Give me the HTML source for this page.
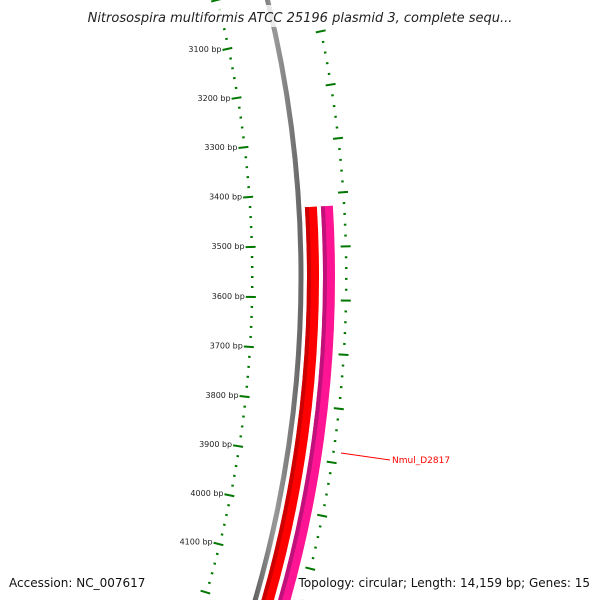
<!DOCTYPE html>
<html><head><meta charset="utf-8"><style>
html,body{margin:0;background:#fff;width:600px;height:600px;overflow:hidden;}
svg{display:block;font-family:"DejaVu Sans","Liberation Sans",sans-serif;}
</style></head><body>
<svg id="map" width="600" height="600" viewBox="0 0 600 600">
<defs>
<linearGradient id="gg" x1="0" x2="1" y1="0" y2="0"><stop offset="0" stop-color="#555"/><stop offset="0.5" stop-color="#999"/><stop offset="1" stop-color="#666"/></linearGradient>
</defs>
<g id="rings"></g>
<g id="ticks"></g>
<g id="genes"></g>
<line x1="341" y1="453" x2="390" y2="460" stroke="#f00" stroke-width="1"/>
<text x="392" y="463" font-size="9" fill="#f00">Nmul_D2817</text>
<rect x="70" y="5" width="460" height="22" fill="#fff" opacity="0.8"/>
<text x="300" y="22" text-anchor="middle" font-size="13" font-style="italic" fill="#222">Nitrosospira multiformis ATCC 25196 plasmid 3, complete sequ...</text>
<text x="9" y="587" font-size="12" fill="#111">Accession: NC_007617</text>
<rect x="298" y="572" width="302" height="28" fill="#fff" opacity="0.9"/>
<text x="590" y="587" text-anchor="end" font-size="12" fill="#111">Topology: circular; Length: 14,159 bp; Genes: 15</text>
</svg>
<script>
const tickBp=[3100,3200,3300,3400,3500,3600,3700,3800,3900,4000,4100];
const tickLabels=["3100 bp","3200 bp","3300 bp","3400 bp","3500 bp","3600 bp","3700 bp","3800 bp","3900 bp","4000 bp","4100 bp"];
const geneNames=["Nmul_D2817"];
const geneStart=[3427];
const geneEnd=[4300];
const CX=-861,CY=277;
const NS="http://www.w3.org/2000/svg";
function ang(bp){return -0.02696+(bp-3500)*0.000449;}
function pt(r,a){return [CX+r*Math.cos(a),CY+r*Math.sin(a)];}
function arc(r,a0,a1){const p=pt(r,a0),q=pt(r,a1);return `M${p[0]},${p[1]} A${r},${r} 0 0 1 ${q[0]},${q[1]}`;}
function mk(tag,attrs,parent){const e=document.createElementNS(NS,tag);for(const k in attrs)e.setAttribute(k,attrs[k]);parent.appendChild(e);return e;}
const rings=document.getElementById('rings'),ticks=document.getElementById('ticks'),genes=document.getElementById('genes');
const bb=mk('path',{d:arc(1162,-0.3,0.3),stroke:'url(#gg)','stroke-width':5,fill:'none'},rings);


for(let bp=3000;bp<=4200;bp+=20){
  const a=ang(bp),major=bp%100===0;
  const r1=major?1107:1112,r2=major?1117:1114.5;
  const p=pt(r1,a),q=pt(r2,a);
  const t=mk('line',{x1:p[0],y1:p[1],x2:q[0],y2:q[1],stroke:'#070','stroke-width':2},ticks);
  
  
  const ao=a+0.0465;
  const r3=major?1202:1206,r4=major?1212:1208.5;
  const p2=pt(r3,ao),q2=pt(r4,ao);
  const t2=mk('line',{x1:p2[0],y1:p2[1],x2:q2[0],y2:q2[1],stroke:'#070','stroke-width':2},ticks);
  
  
}
tickBp.forEach((bp,i)=>{
  const p=pt(1106,ang(bp));
  const tx=mk('text',{x:p[0],y:p[1]+2,'text-anchor':'end','font-size':8,fill:'#222'},ticks);
  tx.textContent=tickLabels[i];
  
  
});
geneNames.forEach((n,i)=>{
  const a0=ang(geneStart[i]),a1=ang(geneEnd[i]);
  const g=mk('path',{d:arc(1174,a0,a1),stroke:'#f00','stroke-width':12,fill:'none'},genes);
  
  
  const e=mk('path',{d:arc(1170,a0,a1),stroke:'#c00','stroke-width':4,fill:'none'},genes);
  
  
  const g2=mk('path',{d:arc(1190,a0,a1),stroke:'#ff1493','stroke-width':12,fill:'none'},genes);
  
  
  const e2=mk('path',{d:arc(1186,a0,a1),stroke:'#c0107a','stroke-width':4,fill:'none'},genes);
  
  
});
</script>
</body></html>
